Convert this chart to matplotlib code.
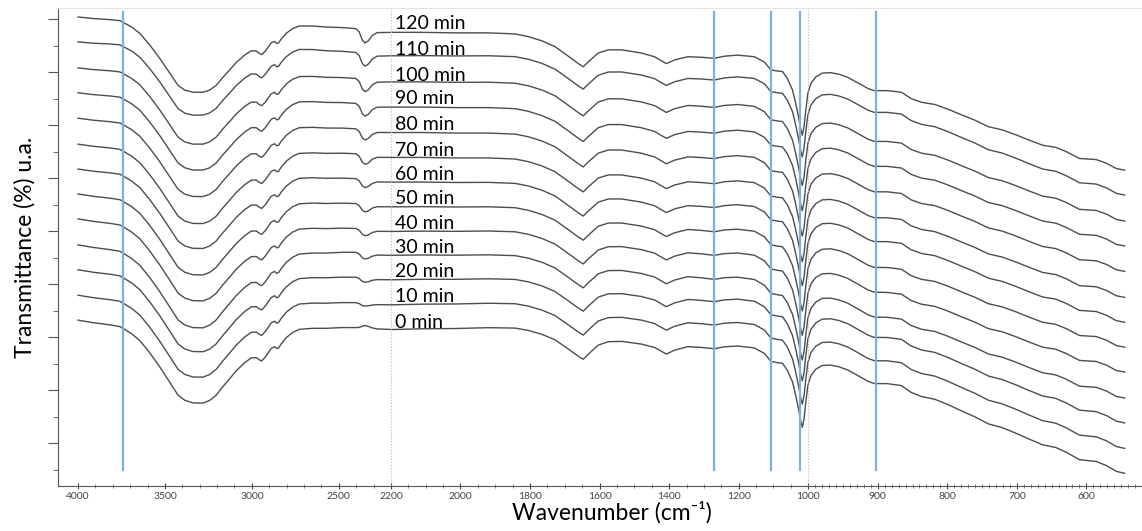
import numpy as np
import matplotlib
matplotlib.use('Agg')
import matplotlib.pyplot as plt

plt.rcParams['font.family'] = ['Lato', 'DejaVu Sans']

# Spektrum 120 min (titik), tanpa pita CO2
wn = [4000, 3912, 3816, 3759, 3741, 3692, 3644, 3587, 3530, 3472, 3425, 3386,
      3339, 3281, 3243, 3205, 3167, 3128, 3090, 3042, 3004, 2975, 2956, 2943,
      2922, 2889, 2870, 2857, 2846, 2832, 2803, 2766, 2727, 2651, 2574, 2479,
      2402, 2383, 2364, 2349, 2330, 2307, 2279, 2196, 2110, 2015, 1919, 1843,
      1805, 1766, 1728, 1690, 1661, 1647, 1633, 1604, 1575, 1537, 1480, 1442,
      1408, 1384, 1346, 1308, 1270, 1241, 1203, 1155, 1126, 1107, 1088, 1074,
      1060, 1045, 1036, 1028, 1021, 1017, 1012, 1007, 1001, 996, 989, 980, 968,
      956, 943, 929, 914, 905, 886, 866, 852, 837, 818, 799, 779, 760, 741, 721,
      702, 683, 663, 644, 629, 610, 586, 571, 557, 545]
t_base = [80.4, 80.1, 79.9, 79.7, 79.4, 78.5, 77.3, 75.1, 72.6, 69.8, 67.5, 66.6,
          66.2, 66.2, 66.6, 67.5, 69.0, 70.4, 71.8, 73.2, 74.0, 74.0, 73.5, 73.3,
          74.0, 75.5, 75.8, 75.4, 75.5, 76.2, 77.3, 78.2, 78.7, 78.7, 78.5, 78.4,
          78.2, 78.1, 78.0, 78.0, 77.9, 77.8, 77.7, 77.5, 77.5, 77.4, 77.4, 77.2,
          76.7, 75.9, 74.8, 73.0, 71.6, 71.0, 71.9, 73.6, 74.2, 74.2, 73.6, 72.9,
          71.6, 72.3, 72.9, 72.8, 72.6, 73.0, 73.2, 72.9, 71.9, 70.4, 70.2, 70.1,
          68.8, 66.6, 64.1, 61.6, 59.1, 58.1, 59.7, 62.8, 66.0, 67.9, 69.1, 69.8, 69.9,
          69.6, 69.0, 68.0, 66.9, 66.5, 66.5, 66.2, 65.0, 64.3, 63.9, 63.0, 61.9, 60.9,
          59.7, 59.1, 58.2, 57.2, 56.2, 55.8, 55.0, 53.7, 53.5, 52.8, 51.8, 51.5]

# bentuk pita CO2 (relatif terhadap kedalaman)
co2_wn = [2250, 2279, 2307, 2330, 2349, 2364, 2383, 2402]
co2_shape = [0.0, -0.1, -0.35, -0.8, -1.0, -0.8, -0.2, 0.0]

times = [0, 10, 20, 30, 40, 50, 60, 70, 80, 90, 100, 110, 120]
offsets = [-57.2, -52.5, -47.7, -43.0, -38.1, -33.4, -28.7, -24.0, -19.1, -14.3, -9.6, -4.7, 0.0]
co2_depth = [-0.5, 0.5, 0.8, 1.1, 1.2, 1.4, 1.5, 1.8, 1.9, 2.2, 2.3, 2.4, 2.5]
label_y = [21.7, 26.6, 31.3, 35.8, 40.4, 45.1, 49.6, 54.2, 59.1, 64.0, 68.3, 73.2, 78.1]

# pergeseran garis dasar tiap kurva pada bilangan gelombang acuan
drift_wn = [545, 875, 1346, 2400, 3300, 4000]
drift = [
    [0, 1.9, 2.5, 0.8, -1.5, 0],   # 0 min
    [0, 1.5, 2.3, 0.8, -1.3, 0],   # 10 min
    [0, 1.1, 1.9, 0.8, -1.3, 0],   # 20 min
    [0, 0.2, 1.5, 0.8, -1.5, 0],   # 30 min
    [0, 0.0, 1.1, 0.4, -1.3, 0],   # 40 min
    [0, 0.0, 0.8, 0.4, -1.1, 0],   # 50 min
    [0, 0.2, 0.6, 0.4, -0.8, 0],   # 60 min
    [0, 0.0, 0.4, 0.4, -0.8, 0],   # 70 min
    [0, 0.0, 0.2, 0.2, -0.6, 0],   # 80 min
    [0, 0.0, 0.2, 0.2, -0.4, 0],   # 90 min
    [0, 0.0, 0.4, 0.2, -0.2, 0],   # 100 min
    [0, 0.6, 0.6, 0.2, 0.4, 0],    # 110 min
    [0, 0.0, 0.0, 0.0, 0.0, 0],    # 120 min
]

# garis penanda (biru) dan batas segmen sumbu
marker_wn = [3741, 1270, 1106, 1023, 903]
break_wn = [2200, 1000]

major_ticks = [4000, 3500, 3000, 2500, 2200, 2000, 1800, 1600, 1400, 1200, 1000, 900, 800, 700, 600]


# Sumbu x bertingkat: skala 1x di atas 2200, 2x antara 2200-1000, 4x di bawah 1000
def forward(w):
    return np.interp(w, [0, 1000, 2200, 5000], [0, 4000, 6400, 9200])


def inverse(u):
    return np.interp(u, [0, 4000, 6400, 9200], [0, 1000, 2200, 5000])


fig = plt.figure(figsize=(11.42, 5.31), dpi=100)
ax = fig.add_axes([0.0508, 0.0847, 0.948, 0.9003])
ax.set_xscale('function', functions=(forward, inverse))

wn_arr = np.array(wn, dtype=float)
co2_rel = np.interp(wn_arr, co2_wn, co2_shape, left=0, right=0)

for i, t in enumerate(times):
    base_shift = np.interp(wn_arr, drift_wn, drift[i])
    y = np.array(t_base) + offsets[i] + co2_depth[i] * co2_rel + base_shift
    ax.plot(wn_arr, y, color='#4d4d4d', lw=1.0)
    ax.text(2189, label_y[i], f'{t} min', fontsize=14, color='black',
            ha='left', va='baseline')

for w in marker_wn:
    ax.plot([w, w], [-5.1, 81.3], color='#7ab0e2', lw=1.6)
for w in break_wn:
    ax.axvline(w, color='#b5b5b5', lw=0.8, ls=':')

ax.set_xlim(4115, 522)
ax.set_ylim(-8.1, 82.1)

ax.set_xticks(major_ticks)
ax.set_xticklabels([str(v) for v in major_ticks])
minor = [v for v in range(2300, 4000, 100)] + [v for v in range(1050, 2200, 50)] + \
        [v for v in range(530, 1000, 10)]
minor = [v for v in minor if v not in major_ticks]
ax.set_xticks(minor, minor=True)
ax.set_yticks(range(0, 81, 10))
ax.set_yticks(range(-5, 81, 10), minor=True)
ax.set_yticklabels([])

ax.tick_params(axis='x', which='major', direction='inout', length=5, width=0.8,
               labelsize=7.5, colors='#444444', pad=2)
ax.tick_params(axis='x', which='minor', direction='inout', length=3, width=0.6, colors='#666666')
ax.tick_params(axis='y', which='major', direction='out', length=7, width=0.8, colors='#555555')
ax.tick_params(axis='y', which='minor', direction='out', length=3.5, width=0.6, colors='#555555')

ax.spines['right'].set_visible(False)
ax.spines['top'].set_color('#e3e3e3')
ax.spines['left'].set_color('#555555')
ax.spines['bottom'].set_color('#555555')

ax.set_xlabel('Wavenumber (cm⁻¹)', fontsize=16.5, labelpad=0, x=0.512)
ax.set_ylabel('Transmittance (%) u.a.', fontsize=16.5, labelpad=6)

fig.savefig('out.png', dpi=100)
